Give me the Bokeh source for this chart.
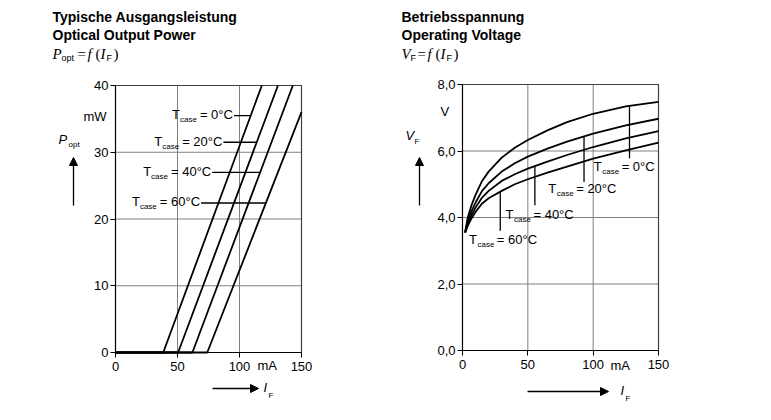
import numpy as np
from bokeh.plotting import figure
from bokeh.layouts import row
from bokeh.models import Range1d, Label, Arrow, NormalHead, LinearAxis, FixedTicker
from bokeh.embed import file_html
from bokeh.resources import INLINE

# ---------------- data ----------------
temps = ["0°C", "20°C", "40°C", "60°C"]

# Left chart: optical output power vs forward current (piecewise linear)
p_thr_mA = [38.5, 50.5, 62.0, 74.0]    # threshold current (P = 0)
p_end_mA = [118, 131, 143, 150]        # last point of each line
p_end_mW = [40, 40, 40, 36]
p_label_mW = [35.5, 31.5, 27.0, 22.4]          # level of each label leader
p_label_start_mA = [95.5, 87.0, 78.0, 69.0]    # where each leader starts

x_ticks = [0, 50, 100, 150]
p_ticks = [0, 10, 20, 30, 40]

# Right chart: forward voltage vs forward current
vf_if = [2, 4, 7, 10, 15, 20, 30, 40, 50, 65, 80, 100, 125, 150]
vf_t0 = [3.55, 4.00, 4.38, 4.68, 5.10, 5.38, 5.80, 6.10, 6.33, 6.62, 6.87, 7.12, 7.34, 7.48]
vf_t20 = [3.55, 3.88, 4.20, 4.45, 4.80, 5.03, 5.38, 5.63, 5.83, 6.07, 6.28, 6.52, 6.77, 6.97]
vf_t40 = [3.55, 3.80, 4.08, 4.30, 4.60, 4.80, 5.10, 5.30, 5.47, 5.68, 5.88, 6.12, 6.38, 6.60]
vf_t60 = [3.55, 3.75, 3.98, 4.17, 4.42, 4.58, 4.80, 5.00, 5.15, 5.35, 5.53, 5.77, 6.02, 6.25]
vf_series = [vf_t0, vf_t20, vf_t40, vf_t60]
vf_leader_mA = [127.8, 93.0, 55.4, 28.9]
vf_leader_low = [5.78, 5.07, 4.37, 3.60]
vf_text_mA = [100.5, 65.7, 33.0, 5.0]
vf_text_V = [5.50, 4.85, 4.05, 3.30]

vf_ticks = [0, 2, 4, 6, 8]
vf_tick_labels = ["0,0", "2,0", "4,0", "6,0", "8,0"]

# ---------------- style ----------------
SANS = "Liberation Sans"
SERIF = "Liberation Serif"
FS = 13
TFS = 14
SUB = 8
GRID = "#808080"
BOX = "#404040"

ARIAL = {"T": .611, "c": .5, "a": .556, "s": .5, "e": .556, "=": .584, " ": .278,
         "0": .556, "2": .556, "4": .556, "6": .556, "°": .4, "C": .722}


def tw(text, size):
    return sum(ARIAL.get(ch, .556) for ch in text) * size


def make_fig(W, H, ox, box, xmax, ymax):
    """Figure whose frame fills the canvas; box = (left, top, right, bottom) page px of the plot box."""
    l, t, r, b = box
    sx = (r - l) / xmax
    sy = (b - t) / ymax
    x_rng = Range1d(-(l - ox) / sx, (ox + W - l) / sx)
    y_rng = Range1d(-(H - b) / sy, t / sy + ymax)
    p = figure(width=W, height=H, x_range=x_rng, y_range=y_rng,
               x_axis_location=None, y_axis_location=None,
               output_backend="svg", toolbar_location=None, min_border=0)
    p.min_border_left = p.min_border_right = p.min_border_top = p.min_border_bottom = 0
    p.outline_line_color = None
    p.background_fill_color = "white"
    p.border_fill_color = "white"
    for g in p.grid:
        g.visible = False
    X = lambda px: (px - l) / sx
    Y = lambda py: (b - py) / sy
    return p, X, Y


def style_axis(ax):
    ax.axis_line_color = "black"
    ax.axis_line_width = 1.2
    ax.major_tick_line_color = "black"
    ax.major_tick_in = 0
    ax.major_tick_out = 5
    ax.minor_tick_line_color = None
    ax.major_label_text_font = SANS
    ax.major_label_text_font_size = f"{FS}px"
    ax.major_label_text_color = "black"


def frame_and_grid(p, xt, yt, xmax, ymax):
    # grid lines, drawn through the data scales
    p.segment(x0=xt, y0=[0] * len(xt), x1=xt, y1=[ymax] * len(xt), line_color=GRID, line_width=1)
    p.segment(x0=[0] * len(yt), y0=yt, x1=[xmax] * len(yt), y1=yt, line_color=GRID, line_width=1)
    # top and right edges of the box
    p.line([0, xmax, xmax], [ymax, ymax, 0], line_color=BOX, line_width=1.2)
    xa = LinearAxis(fixed_location=0, ticker=FixedTicker(ticks=xt), bounds=(0, xmax))
    ya = LinearAxis(fixed_location=0, ticker=FixedTicker(ticks=yt), bounds=(0, ymax))
    style_axis(xa)
    style_axis(ya)
    xa.major_label_standoff = 4
    ya.major_label_standoff = 2
    p.add_layout(xa, "below")
    p.add_layout(ya, "left")
    return xa, ya


def lab(p, x, y, text, size=FS, font=SANS, style="normal", align="left", xo=0, yo=0):
    p.add_layout(Label(x=x, y=y, text=text, x_offset=xo, y_offset=yo,
                       text_font=font, text_font_size=f"{size}px", text_font_style=style,
                       text_align=align, text_baseline="middle", text_color="black"))


def arrow(p, x0, y0, x1, y1):
    p.add_layout(Arrow(end=NormalHead(size=8, fill_color="black", line_color="black"),
                       x_start=x0, y_start=y0, x_end=x1, y_end=y1,
                       line_color="black", line_width=1.3))


def formula(p, X, Y, x0, sym, sub, sub_w):
    """Title formula  sym_sub = f (I_F)  in serif italic with sans subscripts."""
    lab(p, X(x0), Y(53), sym, size=15, font=SERIF, style="italic")
    lab(p, X(x0 + 9), Y(57), sub, size=9)
    xe = x0 + 9 + sub_w + 2
    lab(p, X(xe), Y(53), "=", size=15, font=SERIF)
    lab(p, X(xe + 10), Y(53), "f", size=15, font=SERIF, style="italic")
    lab(p, X(xe + 18), Y(53), "(", size=15, font=SERIF)
    lab(p, X(xe + 23), Y(53), "I", size=15, font=SERIF, style="italic")
    lab(p, X(xe + 29), Y(57), "F", size=9)
    lab(p, X(xe + 36), Y(53), ")", size=15, font=SERIF)


# ---------------- left figure ----------------
p1, X1, Y1 = make_fig(388, 410, 0, (115, 85, 301, 352), 150, 40)
frame_and_grid(p1, x_ticks, p_ticks, 150, 40)

for thr, xe, ye in zip(p_thr_mA, p_end_mA, p_end_mW):
    p1.line([0, thr, xe], [0, 0, ye], line_color="black", line_width=1.8)

for t, thr, xe, ye, ly, lx in zip(temps, p_thr_mA, p_end_mA, p_end_mW, p_label_mW, p_label_start_mA):
    x_on_line = thr + (xe - thr) * ly / ye
    p1.line([lx, x_on_line], [ly, ly], line_color="black", line_width=1.3)
    eq = "= " + t
    w_eq = tw(eq, FS)
    w_case = tw("case", SUB)
    lab(p1, lx, ly, eq, align="right", xo=-1, yo=1)
    lab(p1, lx, ly, "case", size=SUB, align="right", xo=-w_eq - 4, yo=-4)
    lab(p1, lx, ly, "T", align="right", xo=-w_eq - w_case - 4, yo=1)

# titles
lab(p1, X1(52), Y1(16), "Typische Ausgangsleistung", size=TFS, style="bold")
lab(p1, X1(52), Y1(34), "Optical Output Power", size=TFS, style="bold")
formula(p1, X1, Y1, 52, "P", "opt", 14)

# units and axis names
lab(p1, X1(106), Y1(116), "mW", align="right")
lab(p1, X1(257), Y1(365), "mA")
lab(p1, X1(58), Y1(139), "P", style="italic")
lab(p1, X1(68), Y1(144), "opt", size=SUB)
arrow(p1, X1(73), Y1(205), X1(73), Y1(157))
arrow(p1, X1(212), Y1(388), X1(258), Y1(388))
lab(p1, X1(263), Y1(387), "I", style="italic")
lab(p1, X1(268), Y1(395), "F", size=SUB)

# ---------------- right figure ----------------
p2, X2, Y2 = make_fig(380, 410, 388, (462, 84, 658, 350), 150, 8)
xa2, ya2 = frame_and_grid(p2, x_ticks, vf_ticks, 150, 8)
ya2.major_label_overrides = {v: s for v, s in zip(vf_ticks, vf_tick_labels)}

for s in vf_series:
    p2.line(vf_if, s, line_color="black", line_width=1.8)

for t, s, lx, lo, txx, txy in zip(temps, vf_series, vf_leader_mA, vf_leader_low, vf_text_mA, vf_text_V):
    top = float(np.interp(lx, vf_if, s))
    p2.line([lx, lx], [lo, top], line_color="black", line_width=1.3)
    lab(p2, txx, txy, "T", yo=1)
    lab(p2, txx, txy, "case", size=SUB, xo=tw("T", FS) + 0.5, yo=-4)
    lab(p2, txx, txy, "= " + t, xo=tw("T", FS) + tw("case", SUB) + 3, yo=1)

lab(p2, X2(401), Y2(16), "Betriebsspannung", size=TFS, style="bold")
lab(p2, X2(401), Y2(34), "Operating Voltage", size=TFS, style="bold")
formula(p2, X2, Y2, 401, "V", "F", 5)

lab(p2, X2(440), Y2(111), "V")
lab(p2, X2(610), Y2(365), "mA")
lab(p2, X2(405), Y2(135), "V", style="italic")
lab(p2, X2(414), Y2(141), "F", size=SUB)
arrow(p2, X2(419), Y2(205), X2(419), Y2(157))
arrow(p2, X2(527), Y2(391), X2(608), Y2(391))
lab(p2, X2(620), Y2(390), "I", style="italic")
lab(p2, X2(625), Y2(398), "F", size=SUB)

layout = row(p1, p2)
open("out.html", "w").write(file_html(layout, INLINE))
